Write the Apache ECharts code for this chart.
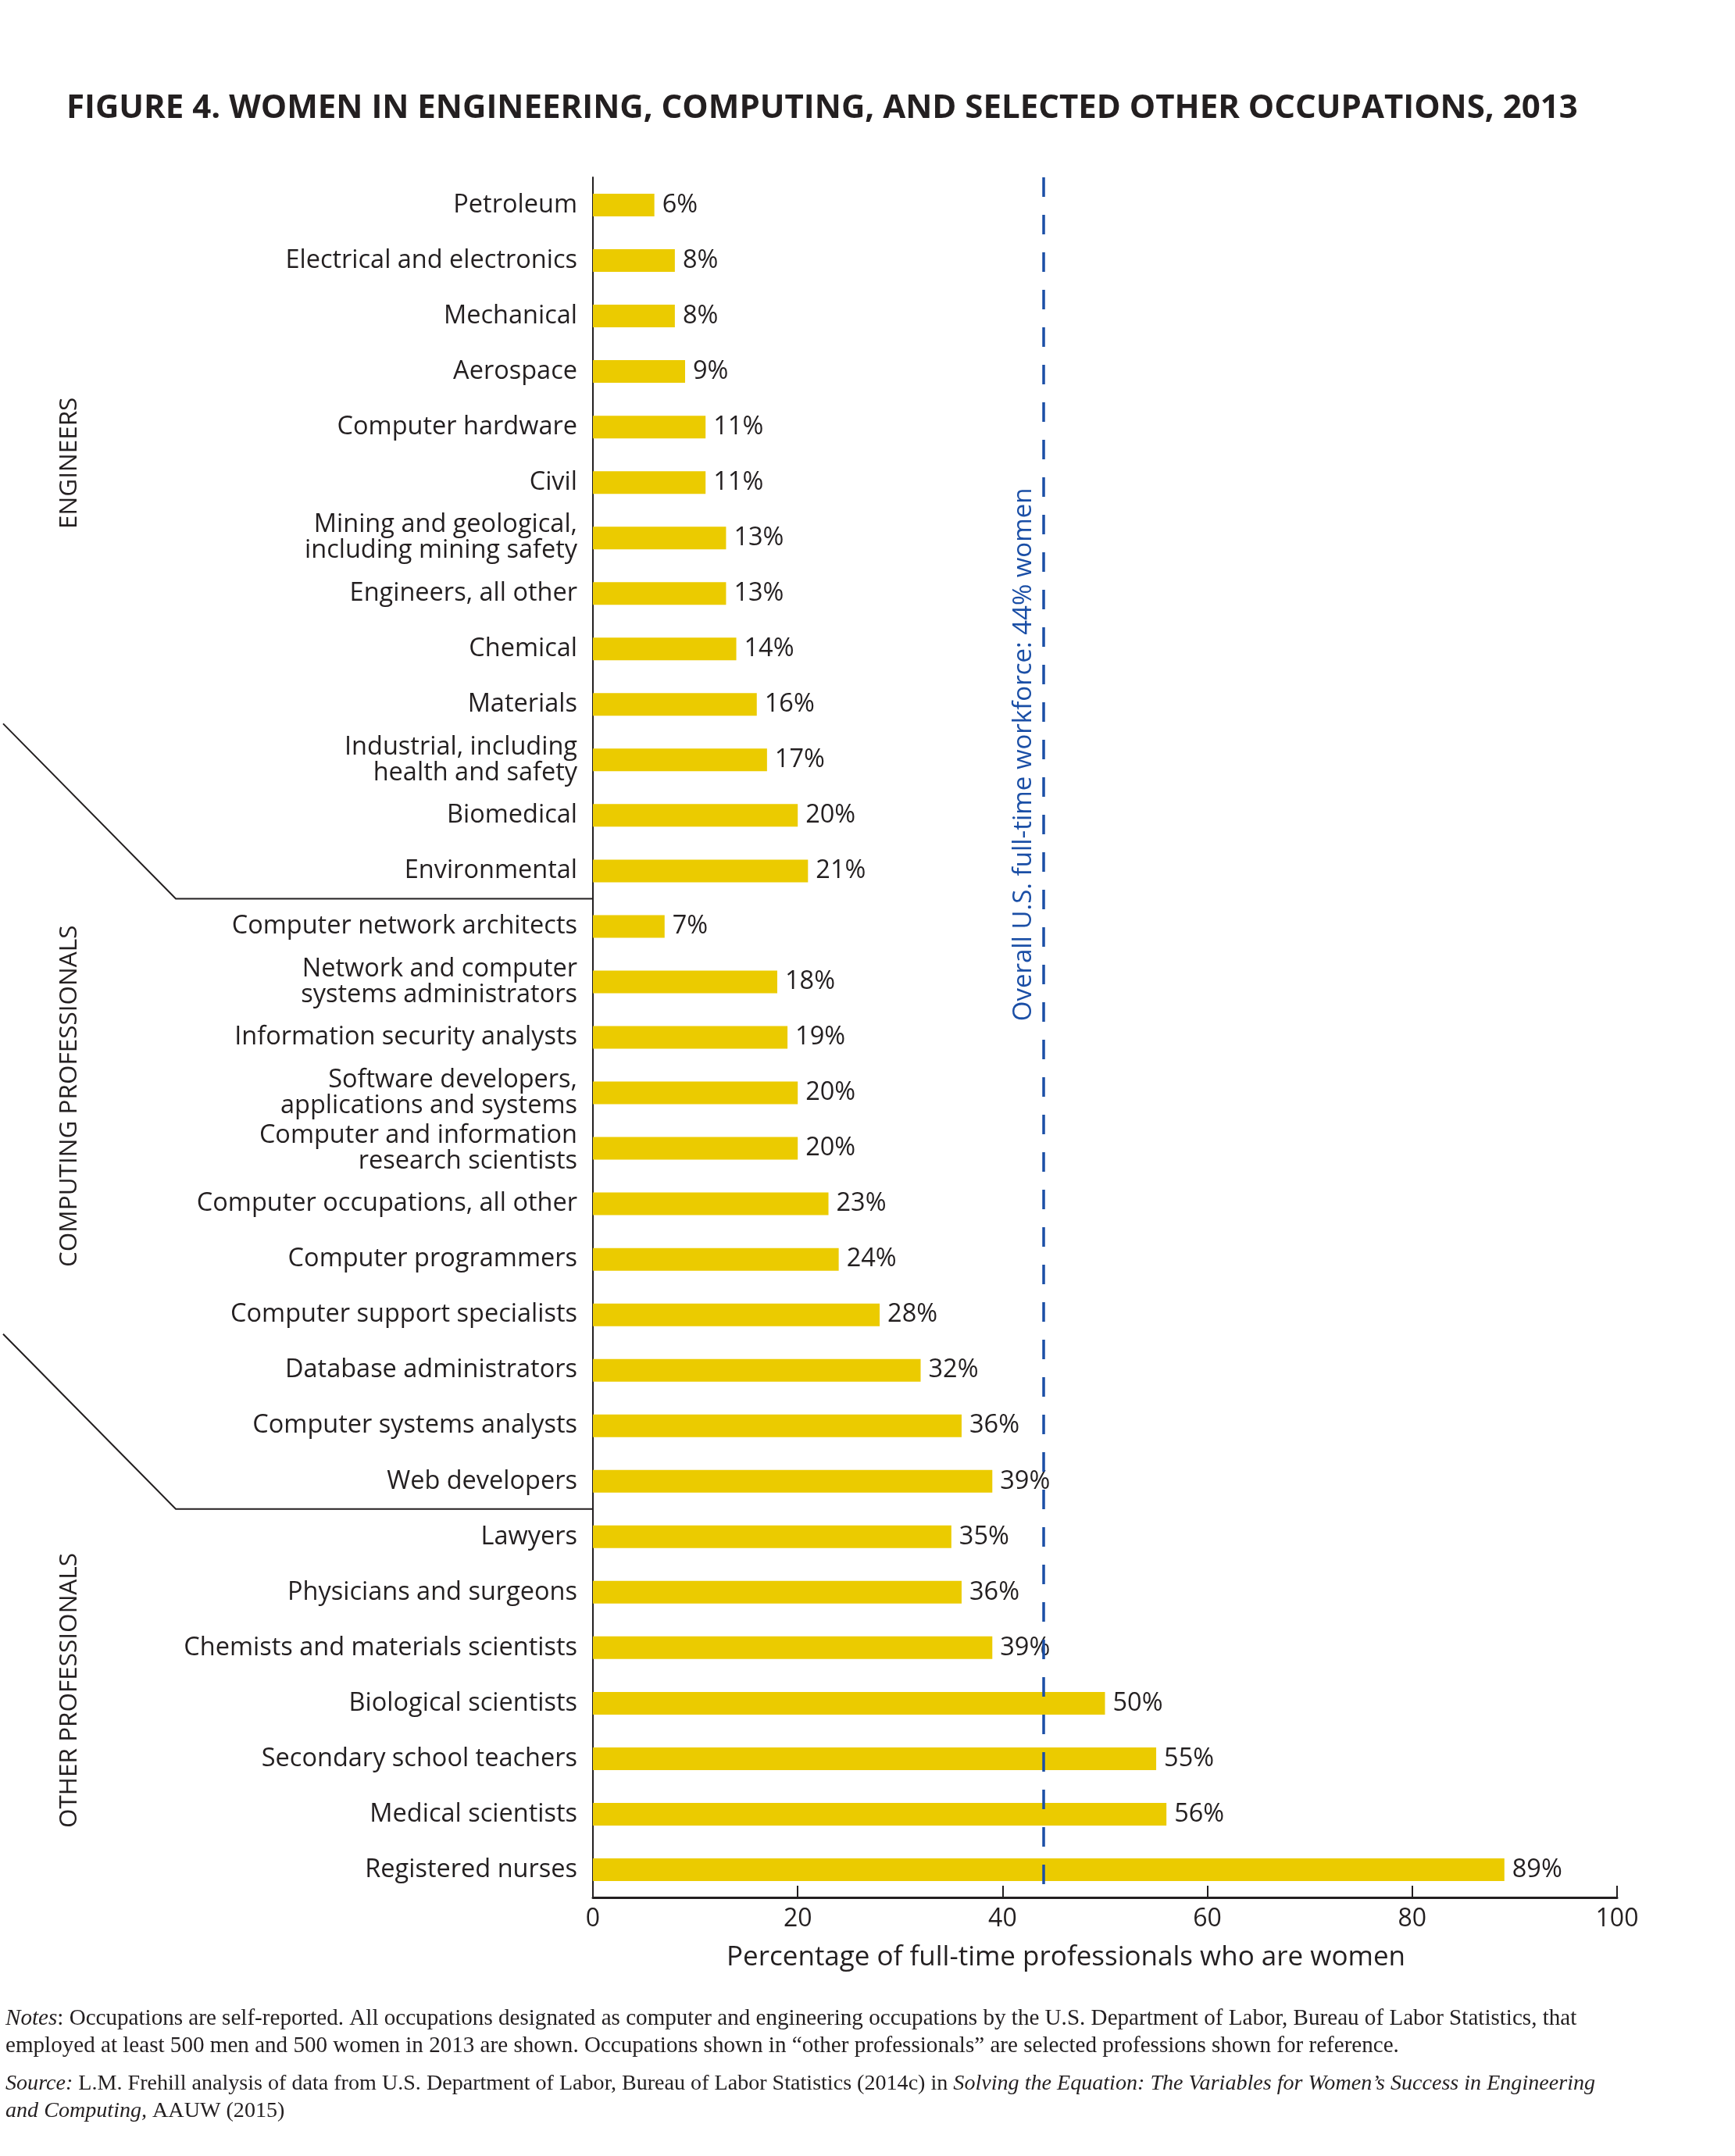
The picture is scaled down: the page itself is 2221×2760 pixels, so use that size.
<!DOCTYPE html>
<html>
<head>
<meta charset="utf-8">
<script src="https://cdn.jsdelivr.net/npm/echarts@6/dist/echarts.min.js"></script>
<style>
  html, body { margin: 0; padding: 0; background: #ffffff; }
  #chart { width: 2221px; height: 2760px; }
</style>
</head>
<body>
<div id="chart"></div>
<script>
// ---- data ----
const categories = [
  'Petroleum',
  'Electrical and electronics',
  'Mechanical',
  'Aerospace',
  'Computer hardware',
  'Civil',
  'Mining and geological,\nincluding mining safety',
  'Engineers, all other',
  'Chemical',
  'Materials',
  'Industrial, including\nhealth and safety',
  'Biomedical',
  'Environmental',
  'Computer network architects',
  'Network and computer\nsystems administrators',
  'Information security analysts',
  'Software developers,\napplications and systems',
  'Computer and information\nresearch scientists',
  'Computer occupations, all other',
  'Computer programmers',
  'Computer support specialists',
  'Database administrators',
  'Computer systems analysts',
  'Web developers',
  'Lawyers',
  'Physicians and surgeons',
  'Chemists and materials scientists',
  'Biological scientists',
  'Secondary school teachers',
  'Medical scientists',
  'Registered nurses'
];
const womenShare = [6, 8, 8, 9, 11, 11, 13, 13, 14, 16, 17, 20, 21,
  7, 18, 19, 20, 20, 23, 24, 28, 32, 36, 39,
  35, 36, 39, 50, 55, 56, 89];
const workforceShare = 44;
const xTicks = [0, 20, 40, 60, 80, 100];
const groupNames = ['ENGINEERS', 'COMPUTING PROFESSIONALS', 'OTHER PROFESSIONALS'];
const groupLabelIndex = [4.65, 16.06, 26.77];   // vertical anchor (in category units)
const groupBoundaries = [12, 23];                 // last category index of each upper group

const titleText = 'FIGURE 4. WOMEN IN ENGINEERING, COMPUTING, AND SELECTED OTHER OCCUPATIONS, 2013';
const xAxisName = 'Percentage of full-time professionals who are women';
const lineLabel = 'Overall U.S. full-time workforce: 44% women';
const notesText = '{i|Notes}: Occupations are self-reported. All occupations designated as computer and engineering occupations by the U.S. Department of Labor, Bureau of Labor Statistics, that\n' +
  'employed at least 500 men and 500 women in 2013 are shown. Occupations shown in \u201Cother professionals\u201D are selected professions shown for reference.';
const sourceText = '{i|Source:} L.M. Frehill analysis of data from U.S. Department of Labor, Bureau of Labor Statistics (2014c) in {i|Solving the Equation: The Variables for Women\u2019s Success in Engineering}\n' +
  '{i|and Computing,} AAUW (2015)';

// ---- style ----
const INK = '#231F20';
const GOLD = '#EBCB00';
const BLUE = '#1B4FA6';
const SANS = '"Open Sans", "Noto Sans", sans-serif';
const SERIF = '"Liberation Serif", "DejaVu Serif", serif';

const chart = echarts.init(document.getElementById('chart'), null, { renderer: 'canvas' });

chart.setOption({
  backgroundColor: '#ffffff',
  animation: false,
  title: [
    {
      text: titleText,
      left: 80, top: 113,
      textStyle: { fontFamily: SANS, fontWeight: 'bold', fontSize: 42, color: INK }
    },
    {
      text: notesText,
      left: 2, top: 2562,
      textStyle: {
        fontFamily: SERIF, fontSize: 29.1, lineHeight: 35, color: INK, fontWeight: 'normal',
        rich: { i: { fontFamily: SERIF, fontStyle: 'italic', fontSize: 29.1, lineHeight: 35, color: INK } }
      }
    },
    {
      text: sourceText,
      left: 2, top: 2645,
      textStyle: {
        fontFamily: SERIF, fontSize: 28.1, lineHeight: 35, color: INK, fontWeight: 'normal',
        rich: { i: { fontFamily: SERIF, fontStyle: 'italic', fontSize: 28.1, lineHeight: 35, color: INK } }
      }
    }
  ],
  grid: { left: 759, right: 151, top: 227, height: 2202, containLabel: false },
  xAxis: {
    type: 'value',
    min: 0, max: 100, interval: 20,
    axisLine: { show: true, lineStyle: { color: INK, width: 3 } },
    axisTick: { show: true, inside: true, length: 15, lineStyle: { color: INK, width: 2 } },
    splitLine: { show: false },
    axisLabel: {
      fontFamily: SANS, fontSize: 32, color: INK, margin: 12,
      formatter: v => (xTicks.indexOf(v) >= 0 ? String(v) : '')
    },
    name: xAxisName,
    nameLocation: 'middle',
    nameGap: 60,
    nameTextStyle: { fontFamily: SANS, fontSize: 35, color: INK, padding: [0, 100, 0, 0] }
  },
  yAxis: {
    type: 'category',
    inverse: true,
    data: categories,
    axisLine: { show: true, lineStyle: { color: INK, width: 2 } },
    axisTick: { show: false },
    splitLine: { show: false },
    axisLabel: {
      fontFamily: SANS, fontSize: 32.5, color: INK, margin: 20, lineHeight: 33, align: 'right'
    }
  },
  series: [{
    type: 'bar',
    data: womenShare,
    barWidth: 29,
    itemStyle: { color: GOLD },
    label: {
      show: true, position: 'right', distance: 10,
      fontFamily: SANS, fontSize: 32.5, color: INK,
      formatter: p => p.value + '%'
    },
    markLine: {
      silent: true,
      symbol: 'none',
      label: { show: false },
      lineStyle: { color: BLUE, width: 3.5, type: [25, 23] },
      data: [{ xAxis: workforceShare }]
    }
  }]
});

// ---- annotations positioned through the chart's own axes ----
const px = (x, y) => chart.convertToPixel({ gridIndex: 0 }, [x, y]);
const y0 = px(0, 0)[1];
const y1 = px(0, 1)[1];
const step = y1 - y0;
const gridLeft = px(0, 0)[0];
const graphics = [];

groupBoundaries.forEach(idx => {
  const yb = y0 + (idx + 0.5) * step;
  graphics.push({
    type: 'polyline',
    shape: { points: [[4, yb - 224], [225, yb], [gridLeft, yb]] },
    style: { stroke: INK, lineWidth: 2, fill: null }
  });
});

groupNames.forEach((name, k) => {
  graphics.push({
    type: 'text',
    x: 89, y: y0 + groupLabelIndex[k] * step,
    rotation: Math.PI / 2,
    style: { text: name, fontFamily: SANS, fontSize: 31.5, fill: INK, align: 'center', verticalAlign: 'middle' }
  });
});

const pLine = px(workforceShare, 10);
graphics.push({
  type: 'text',
  x: pLine[0] - 25, y: pLine[1] - 7,
  rotation: Math.PI / 2,
  style: { text: lineLabel, fontFamily: SANS, fontSize: 33, fill: BLUE, align: 'center', verticalAlign: 'middle' }
});

chart.setOption({ graphic: graphics });
</script>
</body>
</html>
